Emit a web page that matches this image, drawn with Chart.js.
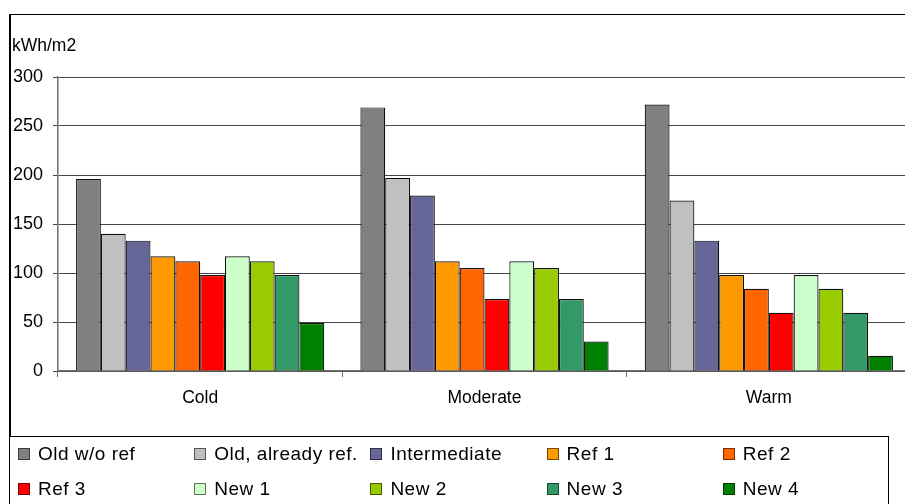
<!DOCTYPE html>
<html>
<head>
<meta charset="utf-8">
<script src="https://cdn.jsdelivr.net/npm/chart.js@4/dist/chart.umd.min.js"></script>
<style>
  html, body { margin: 0; padding: 0; background: #fff; overflow: hidden; width: 905px; height: 504px; }
  body { position: relative; font-family: "Liberation Sans", Arial, sans-serif; color: #000; }
  #wrap { position: absolute; left: 0; top: 0; width: 912px; height: 504px; }
  #frame { position: absolute; left: 9px; top: 14px; width: 910px; height: 500px; border-left: 2px solid #000; border-top: 1px solid #000; box-sizing: border-box; pointer-events: none; }
  #unit { position: absolute; left: 12px; top: 35px; font-size: 17.5px; line-height: 20px; letter-spacing: 0px; }
  #legend { position: absolute; left: 10px; top: 436px; width: 879px; height: 80px; border-top: 1px solid #000; border-right: 1px solid #000; box-sizing: border-box; background: #fff; }
  .item { position: absolute; height: 22px; line-height: 22px; font-size: 19px; letter-spacing: 0.5px; white-space: nowrap; }
  .mk { position: absolute; left: 0; top: 5px; width: 12px; height: 12px; box-sizing: border-box; border: 1.5px solid #000; }
  .tx { position: absolute; left: 20px; top: 0; }
</style>
</head>
<body>
<div id="wrap"><canvas id="c" width="912" height="504"></canvas></div>
<div id="frame"></div>
<div id="unit"></div>
<div id="legend"></div>
<script>
// ---- data ----
const categories = ['Cold', 'Moderate', 'Warm'];
const unitLabel = 'kWh/m2';
const yTicks = [0, 50, 100, 150, 200, 250, 300];
const seriesNames = ['Old w/o ref', 'Old, already ref.', 'Intermediate', 'Ref 1', 'Ref 2', 'Ref 3', 'New 1', 'New 2', 'New 3', 'New 4'];
const oldWoRef      = [196, 269, 272];
const oldAlreadyRef = [140, 197, 174];
const intermediate  = [133, 179, 133];
const ref1          = [117, 112, 98];
const ref2          = [112, 105, 84];
const ref3          = [98, 73.5, 59.5];
const new1          = [117, 112, 98];
const new2          = [112, 105, 84];
const new3          = [98, 73.5, 59.5];
const new4          = [49, 30, 15.5];
const seriesColors = ['#808080', '#C0C0C0', '#666699', '#FF9900', '#FF6600', '#FF0000', '#CCFFCC', '#99CC00', '#339966', '#008000'];
const seriesValues = [oldWoRef, oldAlreadyRef, intermediate, ref1, ref2, ref3, new1, new2, new3, new4];

document.getElementById('unit').textContent = unitLabel;

// legend (HTML, built from the series arrays)
const legend = document.getElementById('legend');
seriesNames.forEach((name, i) => {
  const col = i % 5, row = Math.floor(i / 5);
  const it = document.createElement('div');
  it.className = 'item';
  it.style.left = (8 + col * 176.2) + 'px';
  it.style.top = (6 + row * 34.5) + 'px';
  const mk = document.createElement('span');
  mk.className = 'mk';
  mk.style.background = seriesColors[i];
  mk.style.borderColor = 'color-mix(in srgb, ' + seriesColors[i] + ' 45%, black)';
  const tx = document.createElement('span');
  tx.className = 'tx';
  tx.textContent = name;
  it.appendChild(mk); it.appendChild(tx);
  legend.appendChild(it);
});

const datasets = seriesNames.map((name, i) => ({
  label: name,
  data: seriesValues[i],
  backgroundColor: seriesColors[i],
  borderColor: '#111',
  borderWidth: 1.2,
  categoryPercentage: 0.873,
  barPercentage: 1.0
}));

new Chart(document.getElementById('c'), {
  type: 'bar',
  data: { labels: categories, datasets },
  options: {
    responsive: false,
    animation: false,
    layout: { padding: { top: 77, left: 0, right: 1, bottom: 0 } },
    plugins: { legend: { display: false }, tooltip: { enabled: false } },
    scales: {
      x: {
        grid: { offset: true, drawOnChartArea: false, drawTicks: true, tickLength: 6, color: '#6a6a6a' },
        border: { display: true, color: '#6f6f6f', width: 1.5 },
        ticks: { color: '#000', font: { family: 'Liberation Sans', size: 17.5 }, padding: 11, maxRotation: 0 },
        afterFit: (s) => { s.height = 133; }
      },
      y: {
        min: 0, max: 300,
        afterBuildTicks: (s) => { s.ticks = yTicks.map(v => ({ value: v })); },
        grid: { color: '#454545', lineWidth: 1, drawTicks: true, tickLength: 5 },
        border: { display: true, color: '#6f6f6f', width: 1.5 },
        ticks: { color: '#000', font: { family: 'Liberation Sans', size: 18 }, padding: 10 },
        afterFit: (s) => { s.width = 58; }
      }
    }
  }
});
</script>
</body>
</html>
